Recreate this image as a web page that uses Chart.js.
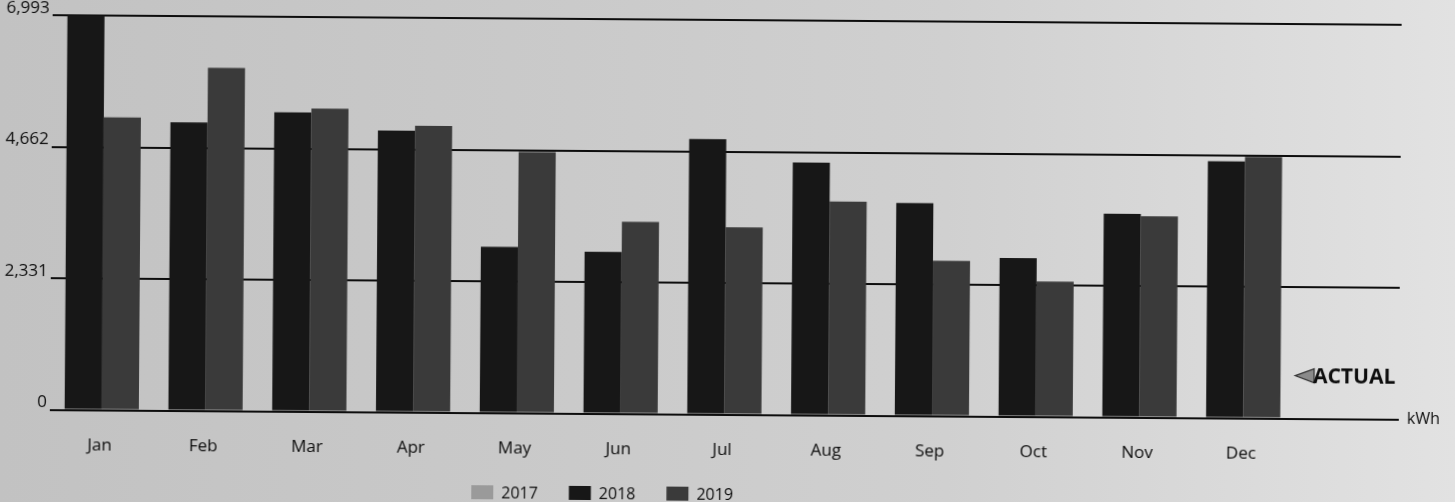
<!DOCTYPE html>
<html>
<head>
<meta charset="utf-8">
<script src="https://cdn.jsdelivr.net/npm/chart.js@4"></script>
<style>
  html, body { margin: 0; padding: 0; width: 1455px; height: 502px; overflow: hidden;
    background: linear-gradient(90deg, #c2c2c2 0%, #c9c9c9 35%, #d0d0d0 65%, #e2e2e2 100%); }
  #wrap { position: absolute; left: 0; top: 0; width: 1455px; height: 502px; transform: rotate(0.41deg); transform-origin: 50% 50%; }
  canvas { display: block; }
</style>
</head>
<body>
<div id="wrap"><canvas id="c" width="1455" height="502"></canvas></div>
<script>
const categories = ['Jan', 'Feb', 'Mar', 'Apr', 'May', 'Jun', 'Jul', 'Aug', 'Sep', 'Oct', 'Nov', 'Dec', ''];
const seriesNames = ['2017', '2018', '2019'];
const values2017 = [null, null, null, null, null, null, null, null, null, null, null, null];
const values2018 = [6993, 5110, 5300, 4990, 2945, 2870, 4880, 4475, 3770, 2810, 3610, 4550];
const values2019 = [5190, 6080, 5370, 5080, 4625, 3405, 3320, 3790, 2755, 2400, 3570, 4630];
const yTicks = [0, 2331, 4662, 6993];
const unitLabel = 'kWh';
const noteLabel = 'ACTUAL';

const FONT = "'Open Sans', 'DejaVu Sans', sans-serif";
const INK = '#0d0d0d';

const extras = {
  id: 'extras',
  afterLayout(chart) {
    const lg = chart.legend;
    if (lg) {
      const dx = 442 - lg.left;
      lg.left += dx; lg.right += dx;
      const dy = 456 - lg.top;
      lg.top += dy; lg.bottom += dy;
    }
  },
  afterDraw(chart) {
    const ctx = chart.ctx;
    const a = chart.chartArea;
    ctx.save();
    ctx.fillStyle = INK;
    ctx.font = "16px " + FONT;
    ctx.textAlign = 'left';
    ctx.textBaseline = 'middle';
    ctx.fillText(unitLabel, a.right + 8, a.bottom);
    const ty = a.bottom - 43;
    const tx = a.right - 104;
    ctx.beginPath();
    ctx.moveTo(tx, ty);
    ctx.lineTo(tx + 19, ty - 7);
    ctx.lineTo(tx + 19, ty + 7);
    ctx.closePath();
    ctx.fillStyle = '#8a8a8a';
    ctx.fill();
    ctx.lineWidth = 1.2;
    ctx.strokeStyle = '#333';
    ctx.stroke();
    ctx.fillStyle = INK;
    ctx.font = "bold 21px " + FONT;
    ctx.textBaseline = 'middle';
    ctx.fillText(noteLabel, tx + 18, ty + 1);
    ctx.restore();
  }
};

new Chart(document.getElementById('c'), {
  type: 'bar',
  data: {
    labels: categories,
    datasets: [
      { label: seriesNames[0], data: values2017, backgroundColor: '#9a9a9a', borderWidth: 0 },
      { label: seriesNames[1], data: values2018, backgroundColor: '#171717', borderWidth: 0 },
      { label: seriesNames[2], data: values2019, backgroundColor: '#3a3a3a', borderWidth: 0 }
    ]
  },
  options: {
    responsive: false,
    animation: false,
    devicePixelRatio: 1,
    skipNull: true,
    datasets: { bar: { categoryPercentage: 0.715, barPercentage: 1.0, skipNull: true } },
    layout: { padding: { top: 20, right: 55, left: 0, bottom: -28 } },
    plugins: {
      legend: {
        position: 'bottom',
        align: 'start',
        maxHeight: 45,
        labels: {
          boxWidth: 22, boxHeight: 17, padding: 31,
          color: INK,
          font: { family: FONT, size: 16 }
        }
      },
      tooltip: { enabled: false }
    },
    scales: {
      x: {
        grid: { display: false, drawTicks: false },
        border: { display: false },
        ticks: { color: INK, padding: 25, labelOffset: -2, maxRotation: 0, autoSkip: false,
                 font: { family: FONT, size: 17 } }
      },
      y: {
        min: 0,
        max: yTicks[yTicks.length - 1],
        afterBuildTicks(scale) { scale.ticks = yTicks.map(v => ({ value: v })); },
        afterFit(scale) { scale.width = 51; },
        grid: { color: INK, lineWidth: 2, drawTicks: false },
        border: { display: false },
        ticks: {
          color: INK, padding: 3, labelOffset: -7,
          font: { family: FONT, size: 17 },
          callback: (v) => Number(v).toLocaleString('en-US')
        }
      }
    }
  },
  plugins: [extras]
});
</script>
</body>
</html>
